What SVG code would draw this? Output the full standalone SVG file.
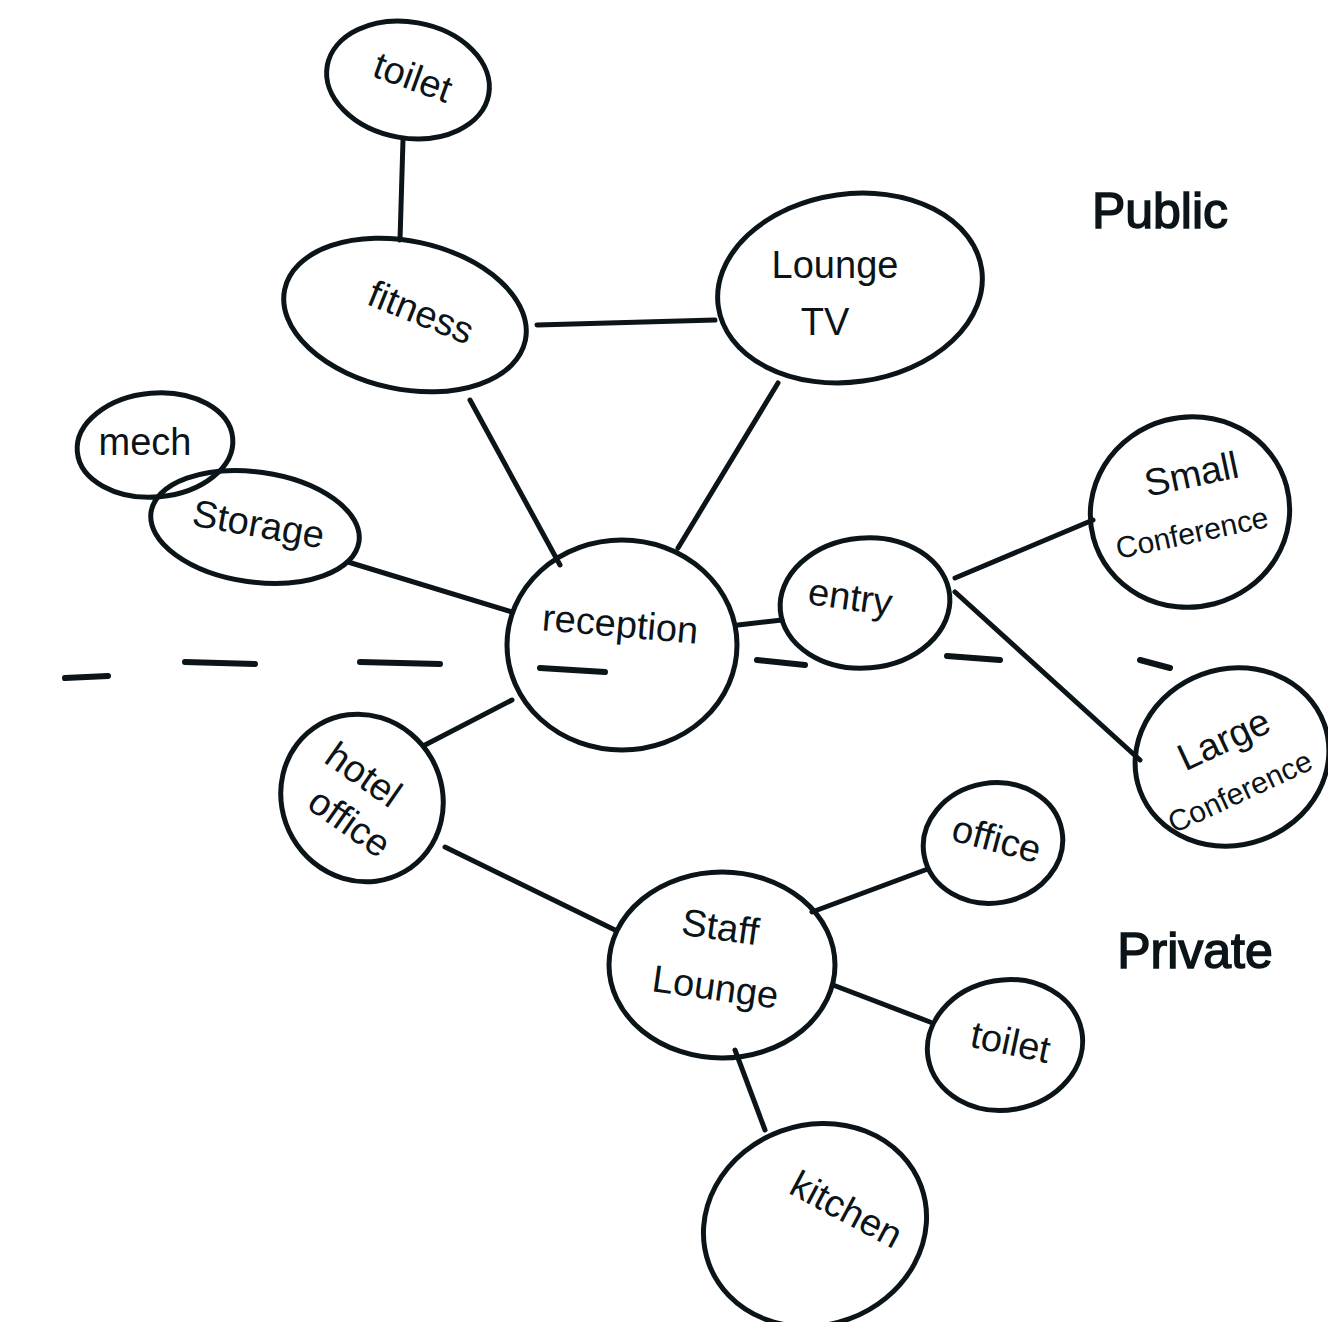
<svg xmlns="http://www.w3.org/2000/svg" width="1328" height="1322" viewBox="0 0 1328 1322">
<style>
.n{fill:none;stroke:#0b1418;stroke-width:5}
.c line{stroke:#0b1418;stroke-width:5;stroke-linecap:round}
.d{stroke:#0b1418;stroke-width:6;stroke-linecap:round}
text{font-family:"Liberation Sans","DejaVu Sans",sans-serif;fill:#0b1418;text-anchor:middle}
.t{font-size:38px}
.s{font-size:30px}
.b{font-size:50px;stroke:#0b1418;stroke-width:1.5}
</style>
<rect width="1328" height="1322" fill="#fff"/>
<g id="divider">
<line class="d" x1="65" y1="678" x2="108" y2="676"/>
<line class="d" x1="185" y1="662" x2="255" y2="664"/>
<line class="d" x1="360" y1="662" x2="440" y2="664"/>
<line class="d" x1="540" y1="668" x2="605" y2="672"/>
<line class="d" x1="757" y1="660" x2="805" y2="665"/>
<line class="d" x1="947" y1="656" x2="1000" y2="660"/>
<line class="d" x1="1140" y1="660" x2="1170" y2="668"/>
</g>
<g class="c" id="connectors">
<line x1="403" y1="140" x2="400" y2="240"/>
<line x1="537" y1="325" x2="715" y2="320"/>
<line x1="470" y1="400" x2="560" y2="565"/>
<line x1="778" y1="383" x2="678" y2="548"/>
<line x1="348" y1="562" x2="512" y2="612"/>
<line x1="738" y1="625" x2="782" y2="620"/>
<line x1="955" y1="578" x2="1093" y2="520"/>
<line x1="955" y1="592" x2="1140" y2="760"/>
<line x1="512" y1="700" x2="425" y2="745"/>
<line x1="445" y1="847" x2="615" y2="930"/>
<line x1="812" y1="912" x2="925" y2="870"/>
<line x1="833" y1="985" x2="930" y2="1022"/>
<line x1="735" y1="1050" x2="765" y2="1130"/>
</g>
<g id="toilet-top"><ellipse class="n" cx="408" cy="80" rx="82" ry="58" transform="rotate(10 408 80)"/><text class="t" x="412" y="90" transform="rotate(20 412 80)">toilet</text></g>
<g id="fitness"><ellipse class="n" cx="405" cy="315" rx="123" ry="74" transform="rotate(12 405 315)"/><text class="t" x="420" y="325" transform="rotate(22 420 315)">fitness</text></g>
<g id="lounge-tv"><ellipse class="n" cx="850" cy="288" rx="133" ry="94" transform="rotate(-8 850 288)"/><text class="t" x="835" y="278">Lounge</text><text class="t" x="825" y="335">TV</text></g>
<g id="mech"><ellipse class="n" cx="155" cy="445" rx="78" ry="52" transform="rotate(-5 155 445)"/><text class="t" x="145" y="455">mech</text></g>
<g id="storage"><ellipse class="n" cx="255" cy="527" rx="105" ry="55" transform="rotate(8 255 527)"/><text class="t" x="258" y="537" transform="rotate(10 258 527)">Storage</text></g>
<g id="reception"><ellipse class="n" cx="622" cy="645" rx="115" ry="105"/><text class="t" x="620" y="637" transform="rotate(5 620 627)">reception</text></g>
<g id="entry"><ellipse class="n" cx="865" cy="603" rx="85" ry="65" transform="rotate(-5 865 603)"/><text class="t" x="850" y="610" transform="rotate(8 850 600)">entry</text></g>
<g id="small-conference"><ellipse class="n" cx="1190" cy="512" rx="100" ry="95" transform="rotate(-15 1190 512)"/><text class="t" x="1192" y="487" transform="rotate(-12 1192 477)">Small</text><text class="s" x="1192" y="543" transform="rotate(-12 1192 533)">Conference</text></g>
<g id="large-conference"><ellipse class="n" cx="1232" cy="757" rx="98" ry="88" transform="rotate(-20 1232 757)"/><text class="t" x="1225" y="752" transform="rotate(-25 1225 742)">Large</text><text class="s" x="1240" y="802" transform="rotate(-25 1240 792)">Conference</text></g>
<g id="hotel-office"><ellipse class="n" cx="362" cy="798" rx="85" ry="80" transform="rotate(60 362 798)"/><text class="t" x="362" y="787" transform="rotate(35 362 777)">hotel</text><text class="t" x="348" y="835" transform="rotate(35 348 825)">office</text></g>
<g id="office"><ellipse class="n" cx="993" cy="843" rx="70" ry="60" transform="rotate(-10 993 843)"/><text class="t" x="996" y="852" transform="rotate(15 996 842)">office</text></g>
<g id="staff-lounge"><ellipse class="n" cx="722" cy="965" rx="113" ry="93"/><text class="t" x="720" y="940" transform="rotate(8 720 930)">Staff</text><text class="t" x="715" y="1000" transform="rotate(8 715 990)">Lounge</text></g>
<g id="toilet-bottom"><ellipse class="n" cx="1005" cy="1045" rx="78" ry="65" transform="rotate(-10 1005 1045)"/><text class="t" x="1010" y="1055" transform="rotate(12 1010 1045)">toilet</text></g>
<g id="kitchen"><ellipse class="n" cx="815" cy="1225" rx="113" ry="100" transform="rotate(-20 815 1225)"/><text class="t" x="845" y="1222" transform="rotate(28 845 1212)">kitchen</text></g>
<text class="b" x="1160" y="228">Public</text>
<text class="b" x="1195" y="968">Private</text>
</svg>
